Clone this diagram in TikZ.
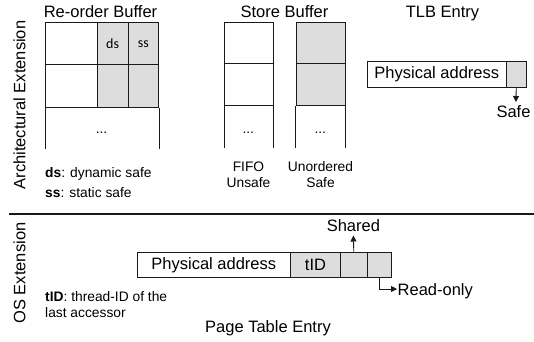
\documentclass[tikz,border=0pt]{standalone}
\usepackage{fontspec}
\setmainfont{Liberation Sans}
\newfontfamily\calfont{Carlito}
\usetikzlibrary{arrows.meta}
\definecolor{shade}{RGB}{221,221,221}
\definecolor{edge}{RGB}{25,25,25}
\begin{document}
\begin{tikzpicture}[x=1pt,y=-1pt,
  big/.style={font=\fontsize{16.5}{19}\selectfont, inner sep=0},
  small/.style={font=\fontsize{13.8}{16}\selectfont, inner sep=0},
  cell/.style={draw=edge, line width=0.9pt, inner sep=0, anchor=north west},
  gcell/.style={cell, fill=shade},
  wire/.style={draw=edge, line width=0.9pt},
  arr/.style={wire, -{Triangle[length=6pt,width=6pt]}}]
\useasboundingbox (0,0) rectangle (534,341);

% side labels
\node[big, rotate=90] (arch) at (19.5,105) {Architectural Extension};
\node[big, rotate=90] (osx) at (19.5,273) {OS Extension};

% Re-order buffer
\node[big, anchor=base] (robt) at (100.5,17) {Re-order Buffer};
\node[cell, minimum width=51.7pt, minimum height=42pt] (r11) at (45,22.3) {};
\node[gcell, minimum width=31pt, minimum height=42pt] (r12) at (96.7,22.3) {\calfont\fontsize{14}{16}\selectfont ds};
\node[gcell, minimum width=30.6pt, minimum height=42pt] (r13) at (127.7,22.3) {\calfont\fontsize{14}{16}\selectfont ss};
\node[cell, minimum width=51.7pt, minimum height=42.4pt] (r21) at (45,64.3) {};
\node[gcell, minimum width=31pt, minimum height=42.4pt] (r22) at (96.7,64.3) {};
\node[gcell, minimum width=30.6pt, minimum height=42.4pt] (r23) at (127.7,64.3) {};
\draw[wire] (r21.south west) -- ++(0,41);
\draw[wire] (r23.south east) -- ++(0,41);
\node[small, anchor=base] (rdots) at (101.5,133) {...};
\node[small, anchor=base west] (dsn) at (45,177) {\textbf{ds}: dynamic safe};
\node[small, anchor=base west] (ssn) at (45,197) {\textbf{ss}: static safe};

% Store buffer
\node[big, anchor=base] (sbt) at (284.5,17) {Store Buffer};
\node[cell, minimum width=48.7pt, minimum height=41pt] (f1) at (224,22.3) {};
\node[cell, minimum width=48.7pt, minimum height=41.7pt] (f2) at (224,63.3) {};
\draw[wire] (f2.south west) -- ++(0,41.7);
\draw[wire] (f2.south east) -- ++(0,41.7);
\node[small, anchor=base] (fdots) at (248.3,133) {...};
\node[gcell, minimum width=49.3pt, minimum height=41pt] (u1) at (295.7,22.3) {};
\node[gcell, minimum width=49.3pt, minimum height=41.7pt] (u2) at (295.7,63.3) {};
\draw[wire] (u2.south west) -- ++(0,41.7);
\draw[wire] (u2.south east) -- ++(0,41.7);
\node[small, anchor=base] (udots) at (320.3,133) {...};
\node[small, anchor=base] (fifo) at (248.5,171) {FIFO};
\node[small, anchor=base] (unsafe) at (248.5,187) {Unsafe};
\node[small, anchor=base] (unord) at (320.5,171) {Unordered};
\node[small, anchor=base] (safe2) at (320.5,187) {Safe};

% TLB entry
\node[big, anchor=base] (tlbt) at (442.5,17) {TLB Entry};
\node[cell, minimum width=139.3pt, minimum height=25.7pt, font=\fontsize{16.5}{19}\selectfont] (tlbpa) at (366.7,61) {Physical address};
\node[gcell, minimum width=19.7pt, minimum height=25.7pt] (tlbs) at (506,61) {};
\coordinate (safetip) at (515.85,102);
\draw[arr] (tlbs.south) -- (safetip);
\node[big, anchor=base] (safe) at (513.5,117) {Safe};

% separator
\coordinate (sepl) at (9,213.5);
\coordinate (sepr) at (534,213.5);
\draw[line width=2pt, draw=edge] (sepl) -- (sepr);

% Page table entry
\node[cell, minimum width=153.3pt, minimum height=25.6pt, font=\fontsize{16.5}{19}\selectfont] (pa) at (136.7,251.7) {Physical address};
\node[gcell, minimum width=50pt, minimum height=25.6pt, font=\fontsize{16.5}{19}\selectfont] (tid) at (290,251.7) {tID};
\node[gcell, minimum width=26.7pt, minimum height=25.6pt] (sh) at (340,251.7) {};
\node[gcell, minimum width=24.3pt, minimum height=25.6pt] (ro) at (366.7,251.7) {};
\coordinate (shtip) at (353.35,235.5);
\draw[arr] (sh.north) -- (shtip);
\node[big, anchor=base] (shared) at (353.35,231.7) {Shared};
\coordinate (rotip) at (397,289);
\draw[arr] (ro.south) |- (rotip);
\node[big, anchor=base west] (readonly) at (397.5,295) {Read-only};
\node[small, anchor=base west] (tidn1) at (45,301) {\textbf{tID}: thread-ID of the};
\node[small, anchor=base west] (tidn2) at (45,317) {last accessor};
\node[big, anchor=base] (ptet) at (268,332) {Page Table Entry};
\end{tikzpicture}
\end{document}
